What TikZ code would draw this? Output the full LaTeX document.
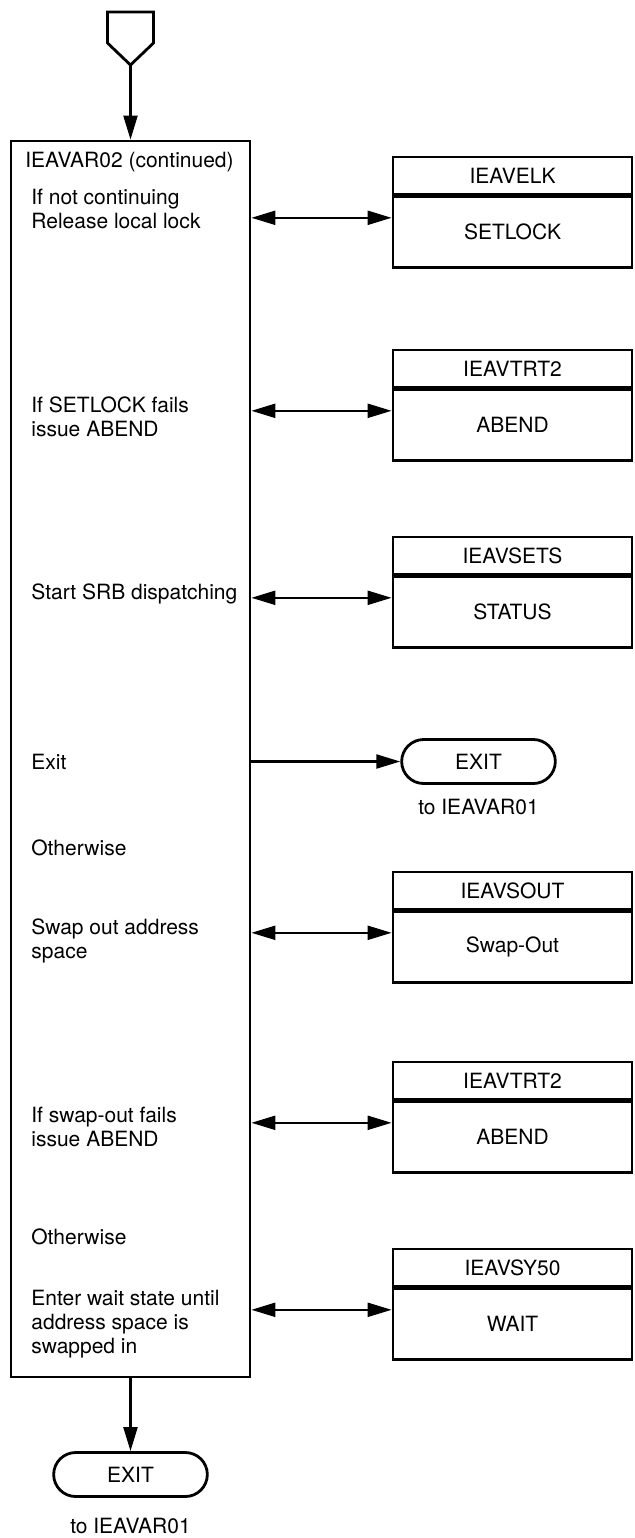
\documentclass[tikz,border=0pt]{standalone}
\usepackage{fontspec}
\setmainfont{TeX Gyre Heros}
\usepackage{tikz}
\usetikzlibrary{shapes.misc, arrows.meta, positioning, calc}
\tikzset{
  modhead/.style={rectangle, draw=black, line width=1.4pt, minimum width=119.5pt, minimum height=18.5pt, align=center, inner sep=0pt},
  modbody/.style={rectangle, draw=black, line width=1.4pt, minimum width=119.5pt, minimum height=35.5pt, align=center, inner sep=0pt},
  terminal/.style={rounded rectangle, draw=black, line width=1.4pt, minimum width=83.5pt, minimum height=22pt, align=center},
  arrow/.style={-{Triangle[length=12pt, width=7pt]}, line width=1.1pt},
  callarrow/.style={{Triangle[length=12pt, width=7pt]}-{Triangle[length=12pt, width=7pt]}, line width=1.1pt},
}

\begin{document}
\begin{tikzpicture}[x=0.5pt, y=-0.5pt, font=\fontsize{10.5}{12}\selectfont,
  note/.style={anchor=west, align=left, inner sep=0pt}]
\useasboundingbox (0,0) rectangle (635,1538);
% off-page connector
\draw[line width=1.4pt] (107.5,12) -- (153.5,12) -- (153.5,43) -- (130.5,65) -- (107.5,43) -- cycle;
\coordinate (entry) at (130.5,65);
\node[draw, line width=1.4pt, minimum width=119.5pt, minimum height=618pt] (var02) at (130.5,759) {};
\node[note] (title) at (25,162) {IEAVAR02 (continued)};
\node[note] (relock) at (31,208.5) {If not continuing\\Release local lock};
\node[note] (lockfail) at (31,417) {If SETLOCK fails\\issue ABEND};
\node[note] (srb) at (31,594) {Start SRB dispatching};
\node[note] (exittxt) at (31,761.5) {Exit};
\node[note] (other1) at (31,848) {Otherwise};
\node[note] (swapout) at (31,940.5) {Swap out address\\space};
\node[note] (swapfail) at (31,1126.5) {If swap-out fails\\issue ABEND};
\node[note] (other2) at (31,1237) {Otherwise};
\node[note] (waitst) at (31,1324) {Enter wait state until\\address space is\\swapped in};

\node[modhead] (elk) at (512.5,175.5) {IEAVELK};
\node[modbody, below=0pt of elk] (elkbody) {SETLOCK};
\node[modhead] (trta) at (512.5,368.5) {IEAVTRT2};
\node[modbody, below=0pt of trta] (trtabody) {ABEND};
\node[modhead] (sets) at (512.5,555.5) {IEAVSETS};
\node[modbody, below=0pt of sets] (setsbody) {STATUS};
\node[terminal] (exita) at (478.5,761.5) {EXIT};
\node[below=3.4pt of exita] (exitalbl) {to IEAVAR01};
\node[modhead] (sout) at (512.5,890.5) {IEAVSOUT};
\node[modbody, below=0pt of sout] (soutbody) {Swap-Out};
\node[modhead] (trtb) at (512.5,1080.5) {IEAVTRT2};
\node[modbody, below=0pt of trtb] (trtbbody) {ABEND};
\node[modhead] (sy50) at (512.5,1267.5) {IEAVSY50};
\node[modbody, below=0pt of sy50] (sy50body) {WAIT};
\node[terminal] (exitb) at (130.5,1474.5) {EXIT};
\node[below=6.5pt of exitb] (exitblbl) {to IEAVAR01};

\coordinate (elkin) at ([yshift=7.25pt]elkbody.west);
\coordinate (trtain) at ([yshift=7.25pt]trtabody.west);
\coordinate (setsin) at ([yshift=7.25pt]setsbody.west);
\coordinate (soutin) at ([yshift=7.25pt]soutbody.west);
\coordinate (trtbin) at ([yshift=7.25pt]trtbbody.west);
\coordinate (sy50in) at ([yshift=7.25pt]sy50body.west);

\draw[arrow] (entry) -- (var02.north);
\draw[callarrow] (var02.east |- elkin) -- (elkin);
\draw[callarrow] (var02.east |- trtain) -- (trtain);
\draw[callarrow] (var02.east |- setsin) -- (setsin);
\draw[arrow] (var02.east |- exita) -- (exita.west);
\draw[callarrow] (var02.east |- soutin) -- (soutin);
\draw[callarrow] (var02.east |- trtbin) -- (trtbin);
\draw[callarrow] (var02.east |- sy50in) -- (sy50in);
\draw[arrow] (var02.south) -- (exitb.north);
\end{tikzpicture}
\end{document}
